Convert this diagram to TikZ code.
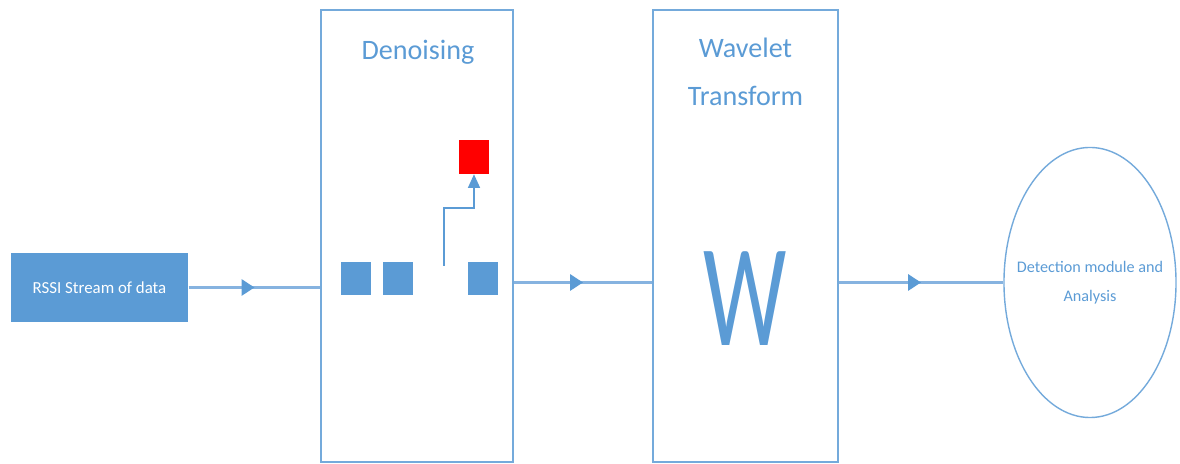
\documentclass[tikz,border=0pt]{standalone}
\usepackage{fontspec}
\setmainfont{Carlito}
\usepackage{graphicx}
\usetikzlibrary{arrows.meta, positioning, shapes.geometric, decorations.markings}
\definecolor{cblue}{HTML}{5B9BD5}
\definecolor{cline}{HTML}{86B3E0}
\definecolor{cred}{HTML}{FF0000}
\tikzset{
  every picture/.style={line width=1pt},
  stage/.style={draw=cblue!85, minimum width=#1, minimum height=11.3cm, inner sep=0pt},
  cell/.style={fill=#1, minimum width=0.75cm, minimum height=0.83cm, inner sep=0pt},
  cell/.default=cblue,
  title/.style={text=cblue, align=center, font=\fontsize{20}{34}\selectfont},
  flow/.style={draw=cline, line width=1.8pt,
    decoration={markings, mark=at position 0.5 with {\arrow[cblue]{Triangle[length=3.2mm, width=4mm]}}},
    postaction={decorate}},
  hop/.style={draw=cblue, line width=1pt, -{Triangle[length=3.4mm, width=3mm]}},
}

\begin{document}
\begin{tikzpicture}[x=0.025cm, y=0.025cm]
  \useasboundingbox (0,0) rectangle (1180,464);
  % input
  \node[fill=cblue, minimum width=4.425cm, minimum height=1.725cm, text=white,
    font=\fontsize{12}{14}\selectfont] (rssi) at (99.5,176.5) {RSSI Stream of data};
  % the two processing stages
  \node[stage=4.8cm] (denoise) at (417,228) {};
  \node[stage=4.625cm] (wave) at (745.5,228) {};
  \node[title] (dtitle) at (418,412) {Denoising};
  \node[title] (wtitle) at (745.5,392) {Wavelet\\Transform};
  \node[text=cblue, font=\fontsize{104}{104}\selectfont, inner sep=0pt] (wsym) at (745,165)
    {\scalebox{0.64}[1]{W}};
  % samples, one moved out
  \node[cell] (s1) at (356,185.5) {};
  \node[cell] (s2) at (398,185.5) {};
  \node[cell] (s3) at (483,185.5) {};
  \node[cell=cred] (out) at (474,307) {};
  \coordinate (gap) at (444,198);
  \draw[hop] (gap) |- (474,256) -- (out.south);
  % output
  \node[ellipse, draw=cblue!85, minimum width=4.3cm, minimum height=6.75cm, inner sep=0pt]
    (det) at (1090,181.5) {};
  \node[align=center, text=cblue, font=\fontsize{11.5}{21}\selectfont] (dettext) at (det.center)
    {Detection module and\\Analysis};
  \draw[flow] (rssi.east) -- (rssi.east -| denoise.west);
  \draw[flow] (denoise.east |- det) -- (wave.west |- det);
  \draw[flow] (wave.east |- det) -- (det.west);
\end{tikzpicture}
\end{document}
